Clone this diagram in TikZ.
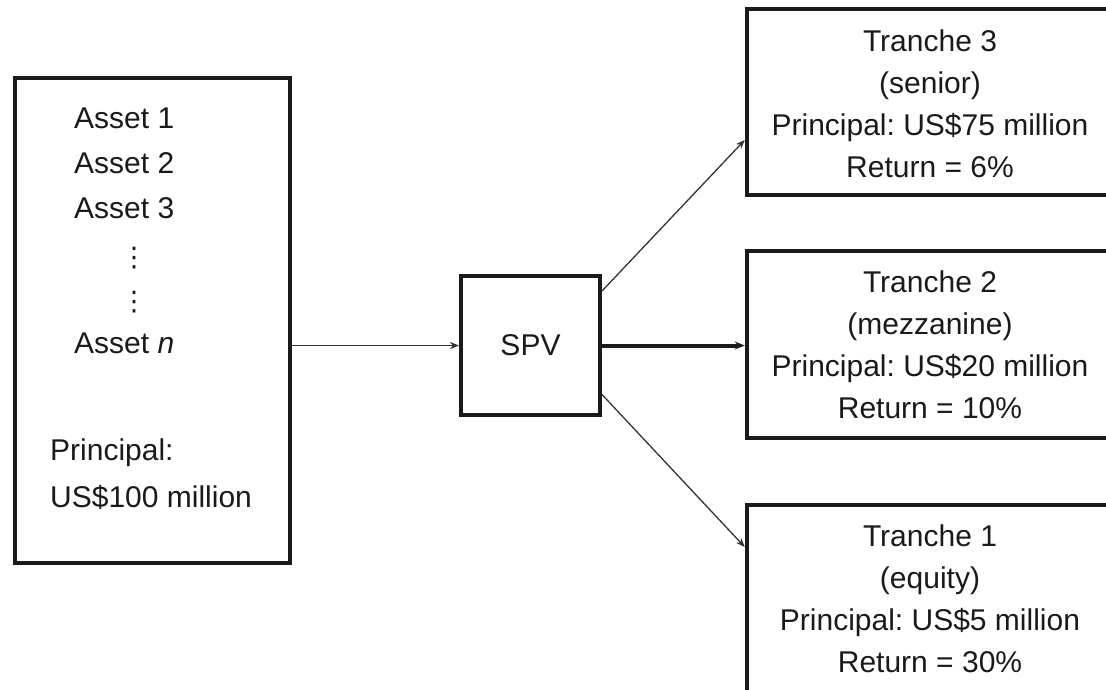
\documentclass[tikz,border=0pt]{standalone}
\usepackage{fontspec}
\setmainfont{Liberation Sans}
\newfontfamily\symfont{DejaVu Sans}
\usetikzlibrary{arrows.meta}
\frenchspacing

\definecolor{ink}{HTML}{1A1A1A}
\definecolor{wire}{HTML}{333333}

\tikzset{
  boxed/.style={draw=ink, line width=4.5pt, inner sep=0pt},
  label28/.style={text=ink, font=\fontsize{30}{42}\selectfont, inner sep=0pt},
  trtext/.style={label28, align=center},
  flow/.style={draw=wire, line width=1.3pt, -{Stealth[length=9pt,width=7pt]}},
  bigflow/.style={draw=ink, line width=4pt, -{Stealth[length=10pt,width=8pt]}},
  vdot/.style={text=ink, font=\symfont\fontsize{27}{27}\selectfont, inner sep=0pt}
}

\begin{document}
\begin{tikzpicture}[x=1pt, y=-1pt]
  \useasboundingbox (0,0) rectangle (1106,689);
  \clip (0,0) rectangle (1106,689);

  % asset pool
  \node[boxed, minimum width=275, minimum height=485] (assets) at (152.5,320.5) {};
  \node[label28, anchor=west] (a1) at (74,118) {Asset 1};
  \node[label28, anchor=west] (a2) at (74,163) {Asset 2};
  \node[label28, anchor=west] (a3) at (74,208) {Asset 3};
  \node[vdot] (d1) at (134,258) {⋮};
  \node[vdot] (d2) at (134,302) {⋮};
  \node[label28, anchor=west] (an) at (74,343) {Asset \textit{n}};
  \node[label28, anchor=west] (p1) at (50,453) {Principal:};
  \node[label28, anchor=west] (p2) at (50,497) {US\$100 million};

  % special purpose vehicle
  \node[boxed, line width=4pt, minimum width=139, minimum height=139, label28] (spv) at (530.5,345.5) {SPV};

  % tranches
  \node[boxed, minimum width=366, minimum height=186] (t3) at (930,102) {};
  \node[trtext] (t3txt) at (930,103.5) {Tranche 3\\(senior)\\Principal: US\$75 million\\Return = 6\%};

  \node[boxed, minimum width=366, minimum height=187] (t2) at (930,344.5) {};
  \node[trtext] (t2txt) at (930,345) {Tranche 2\\(mezzanine)\\Principal: US\$20 million\\Return = 10\%};

  \node[boxed, minimum width=366, minimum height=190] (t1) at (930,600) {};
  \node[trtext] (t1txt) at (930,598.5) {Tranche 1\\(equity)\\Principal: US\$5 million\\Return = 30\%};

  % cash flows
  \draw[flow] (assets.east |- spv.west) -- (spv.west);
  \draw[bigflow] (spv.east) -- (spv.east -| t2.west);
  \draw[flow] ([yshift=-17pt]spv.north east) -- ([yshift=-38pt]t3.west);
  \draw[flow] ([yshift=22.5pt]spv.south east) -- ([yshift=53pt]t1.west);
\end{tikzpicture}
\end{document}
